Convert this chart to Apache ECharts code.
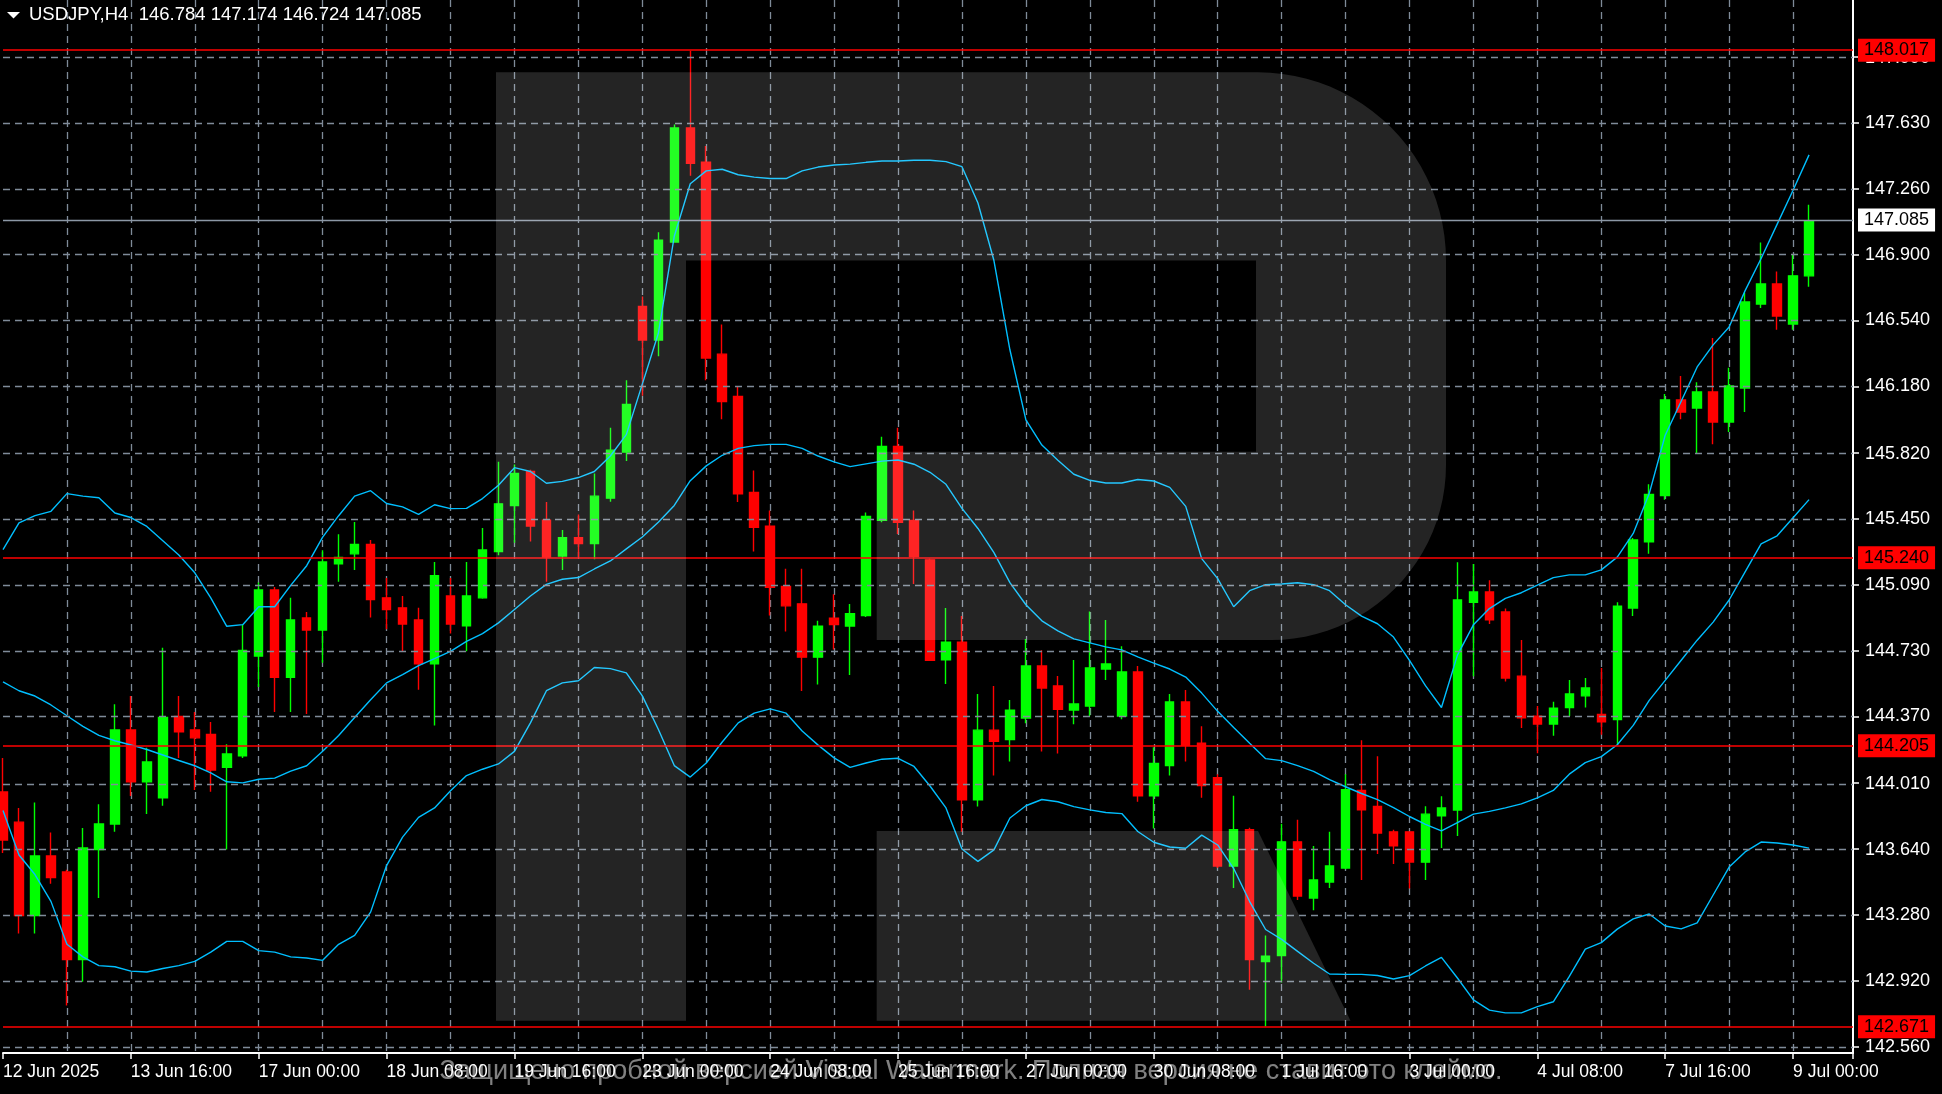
<!DOCTYPE html>
<html><head><meta charset="utf-8">
<script src="https://cdn.jsdelivr.net/npm/echarts@6.0.0/dist/echarts.min.js"></script>
<style>html,body{margin:0;padding:0;background:#000;}#c{width:1942px;height:1094px;}</style>
</head><body><div id="c"></div>
<script>
// ---- data (USDJPY H4, bar 0 = 12 Jun 2025 08:00) ----
const open = [143.956,143.791,143.279,143.606,143.518,143.038,143.641,143.781,144.296,144.012,
143.924,144.370,144.296,144.272,144.091,144.154,144.701,145.063,144.584,144.910,
144.844,145.206,145.261,145.313,145.020,144.965,144.899,144.658,145.030,144.867,
145.020,145.274,145.526,145.712,145.445,145.249,145.349,145.317,145.566,145.818,
146.617,146.432,146.969,147.594,147.406,146.355,146.123,145.598,145.413,145.083,
144.987,144.695,144.908,144.865,144.923,145.445,145.850,145.444,145.228,144.680,
144.777,143.914,144.295,144.244,144.361,144.647,144.537,144.405,144.427,144.630,
144.372,144.614,143.936,144.101,144.449,144.223,144.035,143.551,143.749,143.027,
143.060,143.683,143.375,143.463,143.540,143.965,143.877,143.738,143.738,143.572,
143.826,143.857,144.996,145.052,144.942,144.591,144.372,144.329,144.419,144.483,
144.381,144.353,144.964,145.327,145.580,146.104,146.060,146.148,145.983,146.170,
146.630,146.740,146.520,146.784];
const high = [144.143,143.869,143.899,143.734,143.530,143.759,143.889,144.437,144.482,144.198,
144.746,144.482,144.395,144.340,144.218,144.873,145.104,145.079,145.020,144.942,
145.280,145.368,145.435,145.337,145.128,145.030,144.965,145.216,145.128,145.216,
145.402,145.765,145.750,145.722,145.545,145.392,145.477,145.701,145.952,146.212,
146.671,147.023,147.613,148.017,147.495,146.517,146.181,145.717,145.499,145.179,
145.179,144.895,145.040,144.986,145.488,145.903,145.952,145.499,145.235,144.964,
144.920,144.493,144.537,144.460,144.795,144.733,144.592,144.680,144.945,144.898,
144.755,144.647,144.201,144.493,144.515,144.317,144.053,143.936,143.760,143.170,
143.782,143.804,143.661,143.738,144.053,144.240,144.152,143.749,143.738,143.878,
143.933,145.215,145.205,145.117,144.961,144.789,144.428,144.450,144.570,144.581,
144.635,144.996,145.348,145.642,146.137,146.236,146.201,146.443,146.280,146.692,
146.967,146.808,146.901,147.174];
const low = [143.622,143.181,143.181,143.454,142.786,142.916,143.376,143.738,143.934,143.836,
143.881,144.143,143.967,143.957,143.641,144.143,144.531,144.395,144.395,144.384,
144.664,145.108,145.173,144.912,144.848,144.727,144.517,144.320,144.824,144.727,
145.015,145.253,145.322,145.328,145.108,145.172,145.243,145.232,145.547,145.769,
146.127,146.344,146.965,147.332,146.212,145.999,145.545,145.274,144.923,144.835,
144.510,144.545,144.737,144.597,144.915,145.434,145.370,145.096,144.674,144.548,
143.738,143.877,144.046,144.123,144.333,144.178,144.167,144.328,144.372,144.570,
144.355,143.903,143.756,144.046,144.123,143.925,143.540,143.430,142.873,142.671,
142.913,143.364,143.309,143.430,143.533,143.474,143.617,143.562,143.428,143.474,
143.650,143.715,144.591,144.876,144.561,144.307,144.168,144.265,144.372,144.419,
144.270,144.215,144.921,145.261,145.558,145.998,145.811,145.862,145.928,146.038,
146.608,146.489,146.489,146.724];
const close = [143.693,143.279,143.606,143.488,143.038,143.650,143.781,144.296,144.012,144.121,
144.364,144.286,144.253,144.077,144.165,144.732,145.063,144.584,144.899,144.844,
145.216,145.241,145.313,145.010,144.956,144.877,144.658,145.141,144.877,145.030,
145.282,145.535,145.701,145.413,145.243,145.349,145.317,145.577,145.829,146.080,
146.432,146.980,147.594,147.400,146.334,146.095,145.590,145.406,145.078,144.976,
144.695,144.865,144.873,144.933,145.466,145.850,145.434,145.246,144.678,144.777,
143.914,144.295,144.234,144.405,144.647,144.526,144.409,144.438,144.636,144.658,
144.614,143.936,144.112,144.449,144.212,143.991,143.551,143.749,143.038,143.056,
143.683,143.386,143.474,143.551,143.969,143.859,143.732,143.661,143.573,143.835,
143.869,145.008,145.052,144.900,144.581,144.363,144.329,144.415,144.493,144.526,
144.341,144.974,145.337,145.587,146.104,146.038,146.148,145.983,146.181,146.641,
146.740,146.564,146.784,147.085];
const bbUpper = [145.284,145.431,145.470,145.494,145.591,145.577,145.568,145.485,145.460,145.411,
145.333,145.255,145.157,145.020,144.864,144.873,144.971,144.971,145.088,145.196,
145.353,145.470,145.577,145.607,145.537,145.518,145.477,145.530,145.509,145.510,
145.564,145.637,145.733,145.712,145.648,145.658,145.679,145.712,145.797,145.914,
146.191,146.468,147.001,147.289,147.359,147.368,147.338,147.325,147.317,147.317,
147.359,147.380,147.391,147.396,147.406,147.413,147.413,147.417,147.417,147.410,
147.382,147.183,146.868,146.379,145.995,145.857,145.774,145.697,145.664,145.649,
145.649,145.668,145.660,145.625,145.521,145.235,145.125,144.971,145.059,145.092,
145.096,145.103,145.092,145.059,144.982,144.920,144.878,144.805,144.677,144.539,
144.419,144.706,144.872,144.961,145.017,145.048,145.089,145.131,145.146,145.146,
145.173,145.243,145.373,145.591,145.911,146.097,146.285,146.406,146.504,146.703,
146.879,147.066,147.253,147.447];
const bbMiddle = [144.560,144.511,144.482,144.433,144.374,144.316,144.266,144.237,144.214,144.189,
144.159,144.129,144.100,144.061,144.012,144.006,144.026,144.032,144.071,144.100,
144.179,144.266,144.364,144.462,144.554,144.599,144.648,144.687,144.727,144.781,
144.824,144.883,144.956,145.030,145.094,145.122,145.131,145.178,145.222,145.288,
145.353,145.434,145.526,145.662,145.743,145.801,145.839,145.854,145.861,145.861,
145.839,145.797,145.765,145.739,145.754,145.769,145.775,145.752,145.708,145.642,
145.510,145.400,145.268,145.103,144.982,144.894,144.839,144.795,144.773,144.751,
144.735,144.696,144.662,144.630,144.586,144.498,144.398,144.310,144.223,144.139,
144.128,144.101,144.069,144.024,143.985,143.948,143.914,143.870,143.822,143.779,
143.743,143.789,143.835,143.850,143.869,143.891,143.924,143.965,144.054,144.117,
144.150,144.215,144.321,144.458,144.568,144.678,144.788,144.887,145.008,145.162,
145.316,145.360,145.459,145.558];
const bbLower = [143.855,143.611,143.504,143.357,143.122,143.053,143.005,142.999,142.975,142.970,
142.989,143.005,143.028,143.079,143.138,143.138,143.087,143.079,143.053,143.047,
143.034,143.122,143.171,143.298,143.553,143.709,143.817,143.869,143.963,144.046,
144.081,144.110,144.179,144.335,144.511,144.554,144.566,144.638,144.632,144.609,
144.483,144.300,144.101,144.038,144.115,144.230,144.335,144.388,144.412,144.388,
144.290,144.213,144.143,144.091,144.115,144.136,144.141,144.096,143.989,143.869,
143.644,143.576,143.639,143.814,143.881,143.915,143.903,143.876,143.858,143.844,
143.838,143.740,143.681,143.655,143.648,143.720,143.666,143.537,143.356,143.203,
143.149,143.083,143.018,142.959,142.957,142.957,142.951,142.932,142.950,143.003,
143.050,142.937,142.817,142.761,142.746,142.746,142.780,142.807,142.946,143.095,
143.131,143.205,143.261,143.288,143.222,143.206,143.239,143.392,143.545,143.628,
143.682,143.677,143.666,143.649];
const timeLabelBars = [0,8,16,24,32,40,48,56,64,72,80,88,96,104,112];
const timeLabels = ['12 Jun 2025','13 Jun 16:00','17 Jun 00:00','18 Jun 08:00','19 Jun 16:00','23 Jun 00:00','24 Jun 08:00','25 Jun 16:00','27 Jun 00:00','30 Jun 08:00','1 Jul 16:00','3 Jul 00:00','4 Jul 08:00','7 Jul 16:00','9 Jul 00:00'];
const gridPrices = [142.559,142.920,143.282,143.644,144.005,144.367,144.729,145.090,145.452,145.814,146.176,146.537,146.899,147.261,147.622,147.984];
const gridLabels = ['142.560','142.920','143.280','143.640','144.010','144.370','144.730','145.090','145.450','145.820','146.180','146.540','146.900','147.260','147.630','147.990'];
const levelPrices = [148.017,145.240,144.205,142.671];
const currentPrice = 147.085;
const symbolName = 'USDJPY,H4';
const watermarkText = 'Защищено пробной версией Visual Watermark. Полная версия не ставит это клеймо.';

// ---- view ----
const PRICE_MIN = 142.5263, PRICE_MAX = 148.2953, X_MAX = 115.75;
const GRID = '#7f8b99', FONT = '"Liberation Sans", Arial, sans-serif';
const last = open.length - 1;
const labelMap = {};
timeLabelBars.forEach((b, i) => labelMap[b] = timeLabels[i]);

const candles = open.map((o, i) => [i, o, close[i], low[i], high[i]]);
const line = arr => arr.map((v, i) => [i, v]);

function arcPts(cx, cy, r, a0, a1, n) {
  const pts = [];
  for (let j = 0; j <= n; j++) { const a = a0 + (a1 - a0) * j / n; pts.push([cx + r * Math.cos(a), cy + r * Math.sin(a)]); }
  return pts;
}
const bowl = [[686, 72.3], [1258, 72.3]]
  .concat(arcPts(1258, 260.3, 188, -Math.PI / 2, 0, 24))
  .concat(arcPts(1271, 465, 175, 0, Math.PI / 2, 24))
  .concat([[876.7, 640], [876.7, 451.8], [1256, 451.8], [1256, 260.5], [686, 260.5]]);
const OVER = 'rgba(255,255,255,0.14)';

const chart = echarts.init(document.getElementById('c'), null, {renderer: 'canvas'});
chart.setOption({
  backgroundColor: '#000',
  animation: false,
  grid: {left: 1, right: 89, top: 0, bottom: 41},
  xAxis: [{
    type: 'value', min: 0, max: X_MAX, interval: 4,
    axisLine: {show: true, onZero: false, lineStyle: {color: '#fff', width: 2}},
    axisTick: {show: false},
    splitLine: {show: true, showMinLine: false, showMaxLine: false, lineStyle: {color: GRID, width: 1.3, type: [7, 5]}},
    axisLabel: {show: true, color: '#fff', fontSize: 17.5, fontFamily: FONT, align: 'left', margin: 10,
      formatter: v => labelMap[Math.round(v)] && Math.abs(v - Math.round(v)) < 1e-6 ? labelMap[Math.round(v)] : ''}
  }, {
    type: 'value', min: 0, max: X_MAX, interval: 8, position: 'bottom',
    axisLine: {show: false, onZero: false}, splitLine: {show: false}, axisLabel: {show: false},
    axisTick: {show: true, length: 6, lineStyle: {color: '#fff', width: 1.5}}
  }],
  yAxis: [{
    type: 'value', min: PRICE_MIN, max: PRICE_MAX, position: 'right',
    axisLine: {show: true, onZero: false, lineStyle: {color: '#fff', width: 2}},
    axisTick: {show: true, customValues: gridPrices, length: 6, lineStyle: {color: '#fff', width: 1.5}},
    axisLabel: {show: false}, splitLine: {show: false}
  }],
  series: [
    {
      type: 'line', data: [], z: 1, silent: true,
      markLine: {
        silent: true, symbol: ['none', 'none'], animation: false,
        data: gridPrices.map((p, i) => ({
          yAxis: p,
          lineStyle: {color: GRID, width: 1.3, type: [7, 5]},
          label: {show: true, position: 'end', formatter: gridLabels[i], color: '#fff', fontSize: 18, fontFamily: FONT, distance: 12}
        }))
      }
    },
    {
      type: 'candlestick', z: 2, barWidth: 9, silent: true,
      data: candles,
      itemStyle: {color: '#00ff00', color0: '#ff0000', borderColor: '#00ff00', borderColor0: '#ff0000', borderWidth: 1.4}
    },
    {type: 'line', z: 3, data: line(bbUpper), symbol: 'none', silent: true, lineStyle: {color: '#00bfff', width: 1.4}},
    {type: 'line', z: 3, data: line(bbMiddle), symbol: 'none', silent: true, lineStyle: {color: '#00bfff', width: 1.4}},
    {type: 'line', z: 3, data: line(bbLower), symbol: 'none', silent: true, lineStyle: {color: '#00bfff', width: 1.4}},
    {
      type: 'line', data: [], z: 4, silent: true,
      markLine: {
        silent: true, symbol: ['none', 'none'], animation: false,
        data: [{
          yAxis: currentPrice,
          lineStyle: {color: '#8c98a6', width: 1.3, type: 'solid'},
          label: {show: true, position: 'end', formatter: currentPrice.toFixed(3), color: '#000', backgroundColor: '#fff',
            fontSize: 18, fontFamily: FONT, padding: [3, 6, 2, 6], distance: 5}
        }].concat(levelPrices.map(p => ({
          yAxis: p,
          lineStyle: {color: '#ff0000', width: 1.6, type: 'solid'},
          label: {show: true, position: 'end', formatter: p.toFixed(3), color: '#000', backgroundColor: '#ff0000',
            fontSize: 18, fontFamily: FONT, padding: [3, 6, 2, 6], distance: 5}
        })))
      }
    }
  ],
  graphic: [
    {type: 'rect', z: 60, silent: true, shape: {x: 496, y: 72.3, width: 190, height: 948.4}, style: {fill: OVER}},
    {type: 'polygon', z: 60, silent: true, shape: {points: bowl}, style: {fill: OVER}},
    {type: 'polygon', z: 60, silent: true, shape: {points: [[876.7, 831], [1258, 831], [1350.5, 1020.7], [876.7, 1020.7]]}, style: {fill: OVER}},
    {type: 'polygon', z: 70, silent: true, shape: {points: [[7, 12], [20, 12], [13.5, 18.5]]}, style: {fill: '#fff'}},
    {type: 'text', z: 70, silent: true, x: 29, y: 15,
      style: {text: symbolName + '  ' + [open[last], high[last], low[last], close[last]].map(v => v.toFixed(3)).join(' '),
        fill: '#fff', font: '18.5px ' + FONT, verticalAlign: 'middle'}},
    {type: 'text', z: 80, silent: true, x: 971, y: 1072,
      style: {text: watermarkText, fill: 'rgba(255,255,255,0.5)', font: '27px ' + FONT, align: 'center', verticalAlign: 'middle'}}
  ]
});
</script></body></html>
